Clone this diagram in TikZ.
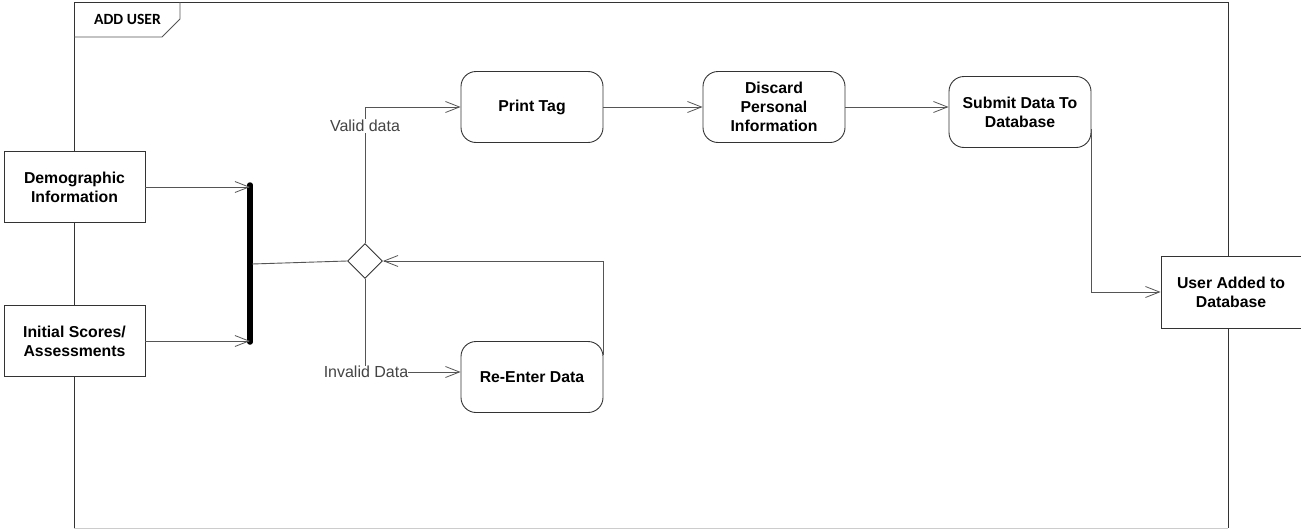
\documentclass[tikz,border=0pt]{standalone}
\usepackage{fontspec}
\setmainfont{Liberation Sans}
\newfontfamily\tabfont{Carlito}
\usetikzlibrary{arrows.meta,shapes.geometric,calc}
\definecolor{ln}{HTML}{555555}
\definecolor{bd}{HTML}{333333}
\tikzset{
  box/.style={draw=bd, line width=0.9pt, fill=white, align=center,
    font=\fontsize{15.8}{19}\selectfont\bfseries, inner sep=0pt},
  sqbox/.style={box, minimum width=141pt, minimum height=71pt},
  rbox/.style={box, rounded corners=15pt, minimum width=142pt, minimum height=71pt},
  conn/.style={draw=ln, line width=0.9pt},
  arr/.style={conn, -{Straight Barb[length=14pt,width=11pt,line width=0.8pt]}},
  lbl/.style={font=\fontsize{16}{18}\selectfont, text=ln!80!black, fill=white, inner sep=1pt},
}
\begin{document}
\begin{tikzpicture}[x=1pt,y=-1pt]
\useasboundingbox (0,0) rectangle (1301,530);
\fill[white] (0,0) rectangle (1301,530);
% frame
\draw[bd, line width=1pt] (74,528) -- (74,2) -- (1228,2) -- (1228,528);
\draw[gray!40, line width=1pt] (74,528) -- (1228,528);
\draw[ln, line width=0.9pt] (74,37) -- (162,37) -- (180,19) -- (180,2);
\node[font=\tabfont\fontsize{15.6}{17}\selectfont\bfseries, anchor=west, inner sep=0pt] (tab) at (94,19) {ADD USER};
% nodes
\node[sqbox] (demo) at (74.5,187) {Demographic\\Information};
\node[sqbox] (init) at (74.5,341) {Initial Scores/\\Assessments};
\coordinate (bartop) at (250,185);
\coordinate (barbot) at (250,342);
\draw[line width=5.5pt, line cap=round] (bartop) -- (barbot);
\coordinate (barmid) at (252,264);
\node[diamond, draw=bd, line width=0.9pt, fill=white, minimum width=35pt, minimum height=35pt, inner sep=0pt] (dia) at (365,261) {};
\node[rbox] (print) at (532,107) {Print Tag};
\node[rbox] (reenter) at (532,377) {Re-Enter Data};
\node[rbox] (discard) at (774,107) {Discard\\Personal\\Information};
\node[rbox] (submit) at (1020,112) {Submit Data To\\Database};
\node[sqbox, minimum width=140pt, minimum height=72pt] (user) at (1231,292) {User Added to\\Database};
% connectors
\draw[arr] (demo.east) -- (demo.east -| bartop);
\draw[arr] (init.east) -- (init.east -| bartop);
\draw[conn] (barmid) -- (dia.west);
\draw[arr] (dia.north) |- (print.west);
\node[lbl] (valid) at (365,126) {Valid data};
\node[lbl, inner sep=0pt] (invalid) at (366,372) {Invalid Data};
\draw[conn] (dia.south) -- (invalid.north -| dia.south);
\draw[arr] (invalid.east) -- (invalid.east -| reenter.west);
\draw[arr] ([yshift=-14pt]reenter.north east) |- (dia.east);
\draw[arr] (print.east) -- (discard.west);
\draw[arr] (discard.east) -- (discard.east -| submit.west);
\draw[arr] ([yshift=-53pt]submit.north east) |- (user.west);
\end{tikzpicture}
\end{document}
